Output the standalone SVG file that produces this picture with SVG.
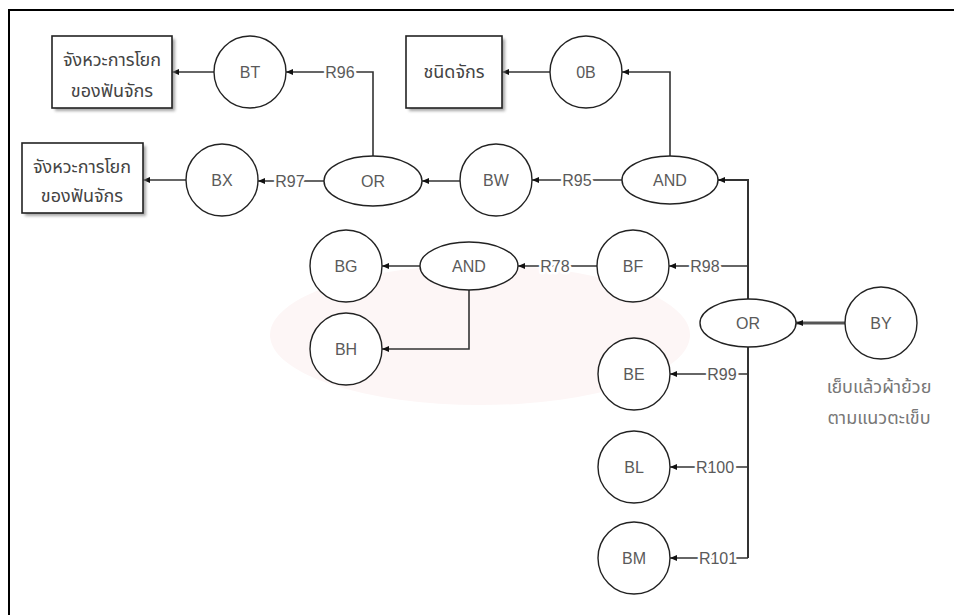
<svg xmlns="http://www.w3.org/2000/svg" width="954" height="615" viewBox="0 0 954 615">
<style>
.node{fill:#fff;stroke:#222;stroke-width:1.4}
.box{fill:#fff;stroke:#222;stroke-width:1.6}
.shadow{fill:#888;opacity:0.75}
.lbl{font-family:"Liberation Sans",Arial,sans-serif;font-size:16px;fill:#5a5a5a;text-anchor:middle;dominant-baseline:central}
.th{font-family:"Noto Sans Thai","Noto Sans","DejaVu Sans",sans-serif;font-size:18px;fill:#444;text-anchor:middle}
.thg{font-family:"Noto Sans Thai","Noto Sans","DejaVu Sans",sans-serif;font-size:18px;fill:#777;text-anchor:middle}
.con{fill:none;stroke:#333;stroke-width:1.6}
.rl{font-family:"Liberation Sans",Arial,sans-serif;font-size:16px;fill:#5a5a5a;text-anchor:middle;dominant-baseline:central;stroke:#fff;stroke-width:5px;paint-order:stroke;stroke-linejoin:round}
</style>
<defs>
<marker id="arr" markerWidth="8" markerHeight="8" refX="7" refY="4" orient="auto" markerUnits="userSpaceOnUse">
<path d="M0,1 L7,4 L0,7 Z" fill="#111"/>
</marker>
<filter id="blur" x="-10%" y="-10%" width="120%" height="120%"><feGaussianBlur stdDeviation="1.5"/></filter>
</defs>
<rect x="0" y="0" width="954" height="615" fill="#fff"/>
<ellipse cx="480" cy="335" rx="210" ry="70" fill="#fdf6f6"/>
<path d="M9,640 V10 H1000" fill="none" stroke="#000" stroke-width="2"/>
<g id="connectors">
<path class="con" d="M214,72 H172" marker-end="url(#arr)"/>
<path class="con" d="M373,156 V72 H286" marker-end="url(#arr)"/>
<path class="con" d="M550,72 H502" marker-end="url(#arr)"/>
<path class="con" d="M670,156 V72 H622" marker-end="url(#arr)"/>
<path class="con" d="M186,180 H143" marker-end="url(#arr)"/>
<path class="con" d="M324,181 H258" marker-end="url(#arr)"/>
<path class="con" d="M460,181 H422" marker-end="url(#arr)"/>
<path class="con" d="M622,180 H532" marker-end="url(#arr)"/>
<path class="con" d="M748,299 V180 H718" marker-end="url(#arr)" style="stroke-width:2"/>
<path class="con" d="M748,266 H669" marker-end="url(#arr)"/>
<path class="con" d="M597,266 H518" marker-end="url(#arr)"/>
<path class="con" d="M420,266 H382" marker-end="url(#arr)"/>
<path class="con" d="M469,290 V349 H382" marker-end="url(#arr)"/>
<path class="con" d="M845,323 H796" marker-end="url(#arr)" style="stroke-width:3;stroke:#555"/>
<path class="con" d="M748,347 V558" style="stroke-width:2"/>
<path class="con" d="M748,374 H670" marker-end="url(#arr)"/>
<path class="con" d="M748,467 H670" marker-end="url(#arr)"/>
<path class="con" d="M748,558 H670" marker-end="url(#arr)"/>
<text class="rl" x="340" y="72">R96</text>
<text class="rl" x="290" y="181">R97</text>
<text class="rl" x="577" y="180">R95</text>
<text class="rl" x="705" y="266">R98</text>
<text class="rl" x="555" y="266">R78</text>
<text class="rl" x="722" y="374">R99</text>
<text class="rl" x="715" y="467">R100</text>
<text class="rl" x="718" y="558">R101</text>
</g>
<g id="box1">
<rect class="shadow" x="55" y="39" width="120" height="72" filter="url(#blur)"/>
<rect class="box" x="52" y="36" width="120" height="72"/>
<text class="th" x="112" y="66">จังหวะการโยก</text>
<text class="th" x="112" y="97">ของฟันจักร</text>
</g>
<g id="box2">
<rect class="shadow" x="25" y="146" width="121" height="70" filter="url(#blur)"/>
<rect class="box" x="22" y="143" width="121" height="70"/>
<text class="th" x="82" y="173">จังหวะการโยก</text>
<text class="th" x="82" y="202">ของฟันจักร</text>
</g>
<g id="box3">
<rect class="shadow" x="409" y="39" width="96" height="72" filter="url(#blur)"/>
<rect class="box" x="406" y="36" width="96" height="72"/>
<text class="th" x="454" y="78">ชนิดจักร</text>
</g>
<g id="BT"><circle class="node" cx="250" cy="72" r="36"/><text class="lbl" x="250" y="72">BT</text></g>
<g id="OB"><circle class="node" cx="586" cy="72" r="36"/><text class="lbl" x="586" y="72">0B</text></g>
<g id="BX"><circle class="node" cx="222" cy="180" r="36"/><text class="lbl" x="222" y="180">BX</text></g>
<g id="OR1"><ellipse class="node" cx="373" cy="181" rx="49" ry="25"/><text class="lbl" x="373" y="181">OR</text></g>
<g id="BW"><circle class="node" cx="496" cy="180" r="36"/><text class="lbl" x="496" y="180">BW</text></g>
<g id="AND1"><ellipse class="node" cx="670" cy="180" rx="48" ry="24"/><text class="lbl" x="670" y="180">AND</text></g>
<g id="BG"><circle class="node" cx="346" cy="266" r="36"/><text class="lbl" x="346" y="266">BG</text></g>
<g id="AND2"><ellipse class="node" cx="469" cy="266" rx="49" ry="24"/><text class="lbl" x="469" y="266">AND</text></g>
<g id="BF"><circle class="node" cx="633" cy="266" r="36"/><text class="lbl" x="633" y="266">BF</text></g>
<g id="BH"><circle class="node" cx="346" cy="349" r="36"/><text class="lbl" x="346" y="349">BH</text></g>
<g id="OR2"><ellipse class="node" cx="748" cy="323" rx="48" ry="24"/><text class="lbl" x="748" y="323">OR</text></g>
<g id="BY"><circle class="node" cx="881" cy="323" r="36"/><text class="lbl" x="881" y="323">BY</text>
<text class="thg" x="879" y="393">เย็บแล้วผ้าย้วย</text>
<text class="thg" x="879" y="424">ตามแนวตะเข็บ</text></g>
<g id="BE"><circle class="node" cx="634" cy="374" r="36"/><text class="lbl" x="634" y="374">BE</text></g>
<g id="BL"><circle class="node" cx="634" cy="467" r="36"/><text class="lbl" x="634" y="467">BL</text></g>
<g id="BM"><circle class="node" cx="634" cy="558" r="36"/><text class="lbl" x="634" y="558">BM</text></g>
</svg>
